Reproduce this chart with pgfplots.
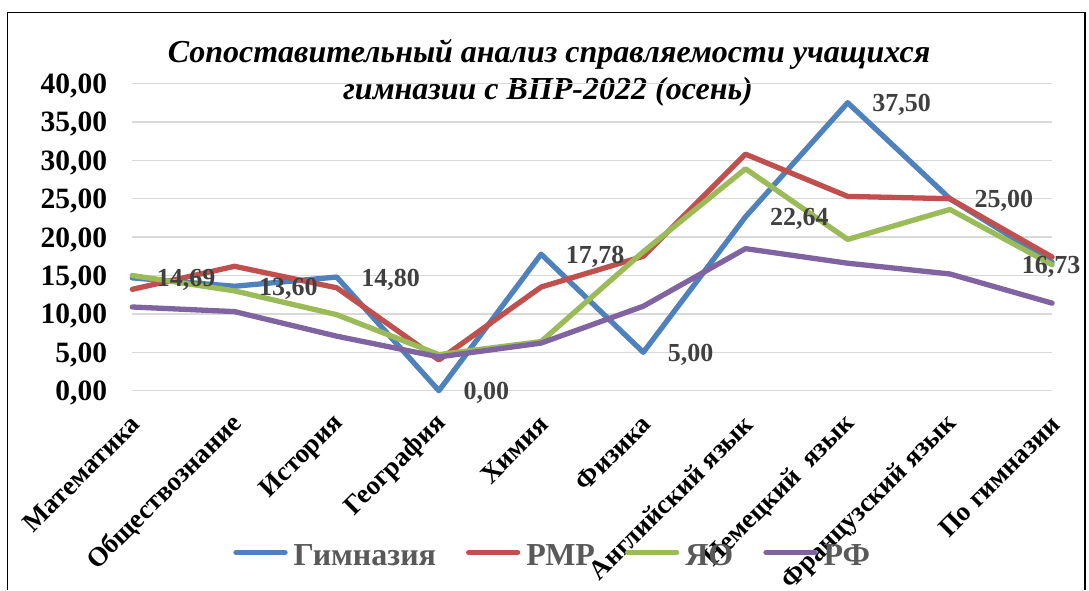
\documentclass[border=0pt]{standalone}
\usepackage{pgfplots}
\pgfplotsset{compat=1.18}
\usepackage{pgfplotstable}
\usepackage{fontspec}
\setmainfont{Liberation Serif}
\definecolor{cBlue}{HTML}{4F81BD}
\definecolor{cRed}{HTML}{C0504D}
\definecolor{cGreen}{HTML}{9BBB59}
\definecolor{cPurple}{HTML}{8064A2}
\definecolor{gridgray}{HTML}{D9D9D9}
\definecolor{labgray}{HTML}{404040}
\definecolor{leggray}{HTML}{595959}
\pgfplotstableread{
x gym lab
0 14.69 14,69
1 13.60 13,60
2 14.80 14,80
3 0.00 0,00
4 17.78 17,78
5 5.00 5,00
6 22.64 22,64
7 37.50 37,50
8 25.00 25,00
}\datatab
\pgfplotstableread{
x gym lab
9 16.73 16,73
}\lasttab
\pgfplotstableread{
x gym rmr yo rf
0 14.69 13.2 15.0 10.9
1 13.60 16.2 13.0 10.3
2 14.80 13.4 9.9 7.1
3 0.00 4.0 4.7 4.4
4 17.78 13.5 6.4 6.2
5 5.00 17.5 18.1 11.0
6 22.64 30.8 28.9 18.5
7 37.50 25.3 19.7 16.6
8 25.00 25.0 23.6 15.2
9 16.73 17.4 16.4 11.4
}\fulltab
\begin{document}
\begin{tikzpicture}
\useasboundingbox (0pt,0pt) rectangle (1089pt,590pt);
\draw[line width=1.3pt] (7.6pt,0pt) -- (7.6pt,577.3pt) -- (1085pt,577.3pt) -- (1085pt,0pt);
\node[anchor=base, inner sep=0pt, font=\fontsize{32}{36}\selectfont\bfseries\itshape] at (549pt,527.3pt) {Сопоставительный анализ справляемости учащихся};
\node[anchor=base, inner sep=0pt, font=\fontsize{32}{36}\selectfont\bfseries\itshape] at (548pt,490.7pt) {гимназии с ВПР-2022 (осень)};
\begin{axis}[
  at={(132.3pt,199.3pt)}, anchor=south west,
  scale only axis, width=919.8pt, height=307.2pt,
  xmin=0, xmax=9, ymin=0, ymax=40, enlargelimits=false,
  clip=false,
  axis line style={draw=none}, major tick length=0pt,
  ymajorgrids, grid style={color=gridgray, line width=1.5pt},
  ytick={0,5,10,15,20,25,30,35,40},
  yticklabels={{0,00},{5,00},{10,00},{15,00},{20,00},{25,00},{30,00},{35,00},{40,00}},
  yticklabel style={font=\fontsize{29.5}{31}\selectfont\bfseries, inner sep=0pt, anchor=base east, xshift=-25pt, yshift=-10pt},
  xtick={0,1,2,3,4,5,6,7,8,9},
  xticklabels={Математика,Обществознание,История,География,Химия,Физика,Английский язык,Немецкий~~язык,Французский язык,По гимназии},
  xticklabel style={font=\fontsize{27}{29}\selectfont\bfseries, inner sep=0pt, xshift=3pt, yshift=-29pt, rotate=45, anchor=east},
  legend columns=4,
  legend style={at={(0.456,-0.537)}, anchor=center, draw=none, fill=none,
    font=\fontsize{32}{34}\selectfont\bfseries, text=leggray,
    nodes={inner sep=0pt},
    /tikz/every even column/.append style={column sep=30pt},
    /tikz/every odd column/.append style={column sep=6pt}},
  legend image code/.code={\draw[#1, line width=5.3pt, line cap=round] (0pt,0.33em) -- (49pt,0.33em);},
  every axis plot/.append style={line width=5.3pt, line join=round, line cap=round},
]
\addplot[cBlue] table[x=x, y=gym] {\fulltab};
\addlegendentry{Гимназия}
\addplot[cRed] table[x=x, y=rmr] {\fulltab};
\addlegendentry{РМР}
\addplot[cGreen] table[x=x, y=yo] {\fulltab};
\addlegendentry{ЯО}
\addplot[cPurple] table[x=x, y=rf] {\fulltab};
\addlegendentry{РФ}
\addplot[draw=none, forget plot, nodes near coords, point meta=explicit symbolic,
  every node near coord/.style={font=\fontsize{26}{28}\selectfont\bfseries, text=labgray, inner sep=0pt, anchor=base west, xshift=22pt, yshift=-9pt}]
  table[x=x, y=gym, meta=lab] {\datatab};
\addplot[draw=none, forget plot, nodes near coords, point meta=explicit symbolic,
  every node near coord/.style={font=\fontsize{26}{28}\selectfont\bfseries, text=labgray, inner sep=0pt, anchor=base, xshift=-1pt, yshift=-11pt}]
  table[x=x, y=gym, meta=lab] {\lasttab};
\end{axis}
\end{tikzpicture}
\end{document}
